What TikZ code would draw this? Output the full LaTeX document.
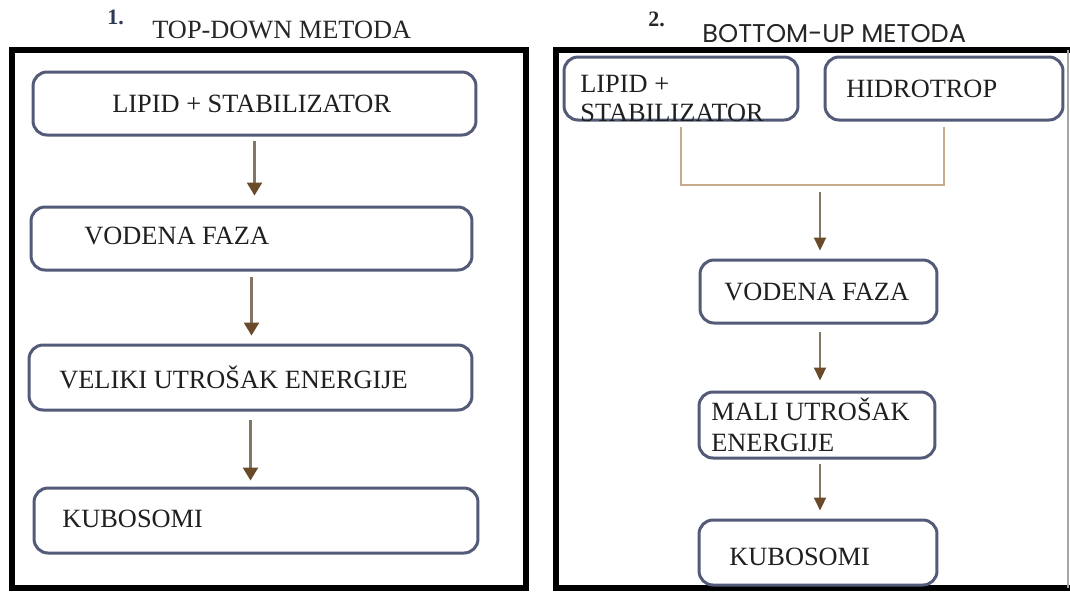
\documentclass[tikz,border=0pt]{standalone}
\usepackage{fontspec}
\setmainfont{Liberation Serif}
\newfontfamily\titlesans{Poppins}
\usetikzlibrary{arrows.meta}
\definecolor{boxc}{HTML}{545B78}
\definecolor{arrc}{HTML}{6B4A2A}
\definecolor{shaftc}{HTML}{857565}
\definecolor{tanc}{HTML}{C8AA8E}
\definecolor{numc}{HTML}{2E3A55}
\tikzset{
  frame/.style={line width=0.12cm, draw=black},
  boxs/.style={draw=boxc, line width=0.06cm, rounded corners=0.28cm, fill=white, inner sep=0pt},
  txt/.style={font=\rmfamily\fontsize{15}{16.5}\selectfont, text=black!88, inner sep=0pt, anchor=base west},
  arrL/.style={draw=shaftc, line width=0.05cm, -{Triangle[width=0.3cm,length=0.26cm,color=arrc,fill=arrc]}},
  arrR/.style={draw=shaftc, line width=0.04cm, -{Triangle[width=0.24cm,length=0.26cm,color=arrc,fill=arrc]}},
  tanline/.style={draw=tanc, line width=0.05cm},
}
\begin{document}
\begin{tikzpicture}[x=0.02cm,y=-0.02cm]
\useasboundingbox (0,0) rectangle (1070,593);
\fill[white] (0,0) rectangle (1070,593);

% frames
\draw[frame] (12,50) rectangle (526,588);
\draw[frame] (1070,50) -- (556,50) -- (556,588) -- (1070,588);
\draw[draw=gray!70, line width=0.04cm] (1068,50) -- (1068,588);

% titles
\node[font=\rmfamily\bfseries\fontsize{12.5}{13}\selectfont, text=numc, anchor=base west, inner sep=0pt] (n1) at (107,24) {1.};
\node[font=\rmfamily\fontsize{15}{16}\selectfont, text=black!85, anchor=base west, inner sep=0pt] (t1) at (152,38) {TOP-DOWN METODA};
\node[font=\rmfamily\bfseries\fontsize{12.5}{13}\selectfont, text=black!85, anchor=base west, inner sep=0pt] (n2) at (648,26) {2.};
\node[font=\titlesans\fontsize{14.6}{15}\selectfont, text=black!85, anchor=base west, inner sep=0pt] (t2) at (702,42) {BOTTOM-UP METODA};

% left column boxes
\node[boxs, minimum width=8.86cm, minimum height=1.26cm] (l1) at (254.5,103.5) {};
\node[boxs, minimum width=8.82cm, minimum height=1.26cm] (l2) at (251.5,238.5) {};
\node[boxs, minimum width=8.86cm, minimum height=1.3cm] (l3) at (250.5,377.5) {};
\node[boxs, minimum width=8.88cm, minimum height=1.3cm] (l4) at (256,520.5) {};
\node[txt] (l1t) at (112,112) {LIPID + STABILIZATOR};
\node[txt] (l2t) at (84,244) {VODENA FAZA};
\node[txt] (l3t) at (59,388) {VELIKI UTROŠAK ENERGIJE};
\node[txt] (l4t) at (62,527) {KUBOSOMI};

% right column boxes
\node[boxs, minimum width=4.68cm, minimum height=1.26cm] (r1) at (681,88.5) {};
\node[boxs, minimum width=4.76cm, minimum height=1.26cm] (r2) at (944,88.5) {};
\node[boxs, minimum width=4.74cm, minimum height=1.26cm] (r3) at (818.5,291.5) {};
\node[boxs, minimum width=4.72cm, minimum height=1.32cm] (r4) at (817,425) {};
\node[boxs, minimum width=4.76cm, minimum height=1.3cm] (r5) at (818,552.5) {};
\node[txt] (r1a) at (580,92) {LIPID +};
\node[txt] (r1b) at (580,121) {STABILIZATOR};
\node[txt] (r2t) at (846,97) {HIDROTROP};
\node[txt] (r3t) at (724,300) {VODENA FAZA};
\node[txt] (r4a) at (711,420) {MALI UTROŠAK};
\node[txt] (r4b) at (711,451) {ENERGIJE};
\node[txt] (r5t) at (729,565) {KUBOSOMI};

% left connectors
\draw[arrL, shorten <=0.08cm, shorten >=0.2cm] (l1.south) -- (l1.south |- l2.north);
\draw[arrL, shorten <=0.1cm, shorten >=0.16cm] (l2.south) -- (l2.south |- l3.north);
\draw[arrL, shorten <=0.16cm, shorten >=0.12cm] (l3.south) -- (l3.south |- l4.north);

% right connectors
\coordinate (join) at (820,185);
\draw[tanline, shorten <=0.1cm] (r1.south) |- (join);
\draw[tanline, shorten <=0.1cm] (r2.south) |- (join);
\draw[arrR, shorten <=0.14cm, shorten >=0.16cm] (join) -- (join |- r3.north);
\draw[arrR, shorten <=0.14cm, shorten >=0.2cm] (r3.south -| join) -- (join |- r4.north);
\draw[arrR, shorten <=0.08cm, shorten >=0.16cm] (r4.south -| join) -- (join |- r5.north);
\end{tikzpicture}
\end{document}
